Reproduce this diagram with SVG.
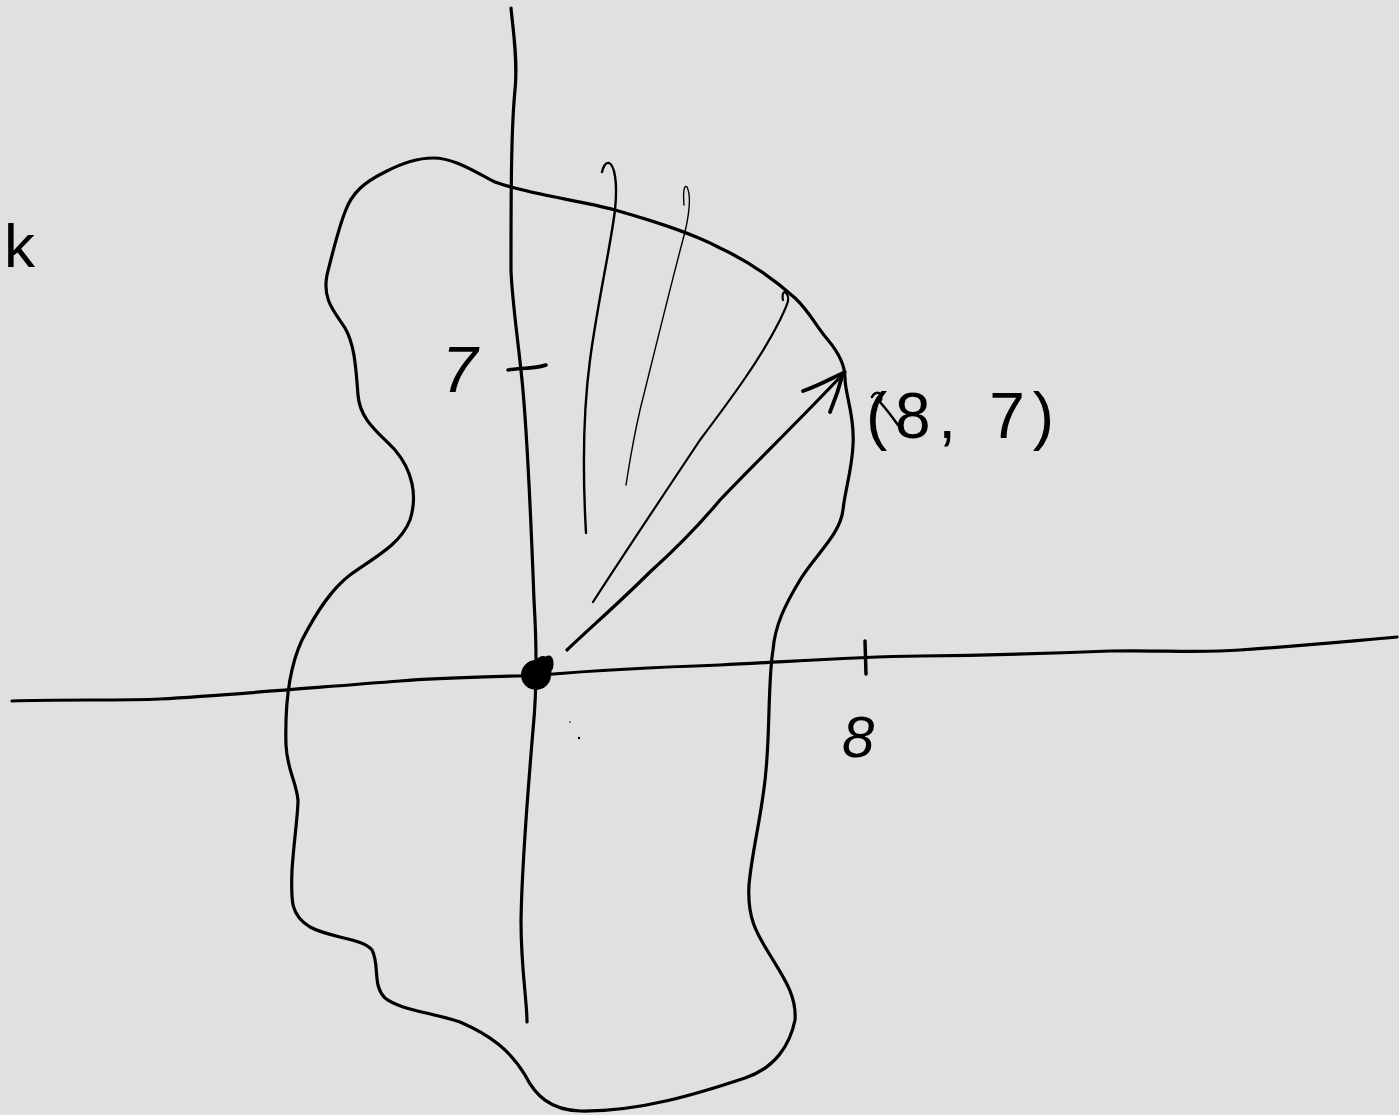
<svg xmlns="http://www.w3.org/2000/svg" width="1399" height="1115" viewBox="0 0 1399 1115">
<style>
.s{fill:none;stroke:#000;stroke-linecap:round;stroke-linejoin:round}
.t{font-family:"Liberation Sans",Arial,sans-serif;fill:#000}
</style>
<rect width="1399" height="1115" fill="#e0e0e0"/>
<g id="region">
<path class="s" stroke-width="3.2" d="M433,158 C455,158 475,172 495,182 C530,195 580,200 615,210 C650,220 690,232 720,248 C750,262 775,280 795,298 C810,312 815,325 828,340 C838,352 845,365 845,378 C845,395 855,415 853,445 C852,470 845,490 843,510 C840,535 815,555 800,580 C785,605 775,625 773,650 C768,680 770,730 766,770 C763,810 752,850 749,885 C747,920 758,935 770,955 C782,975 797,995 795,1020 C790,1045 775,1068 745,1078 C700,1093 640,1112 580,1111 C550,1110 535,1095 525,1075 C510,1050 490,1035 460,1022 C430,1012 400,1010 385,998 C372,985 380,965 372,950 C362,938 330,938 310,927 C290,915 291,900 292,870 C294,840 298,815 298,800 C296,780 287,770 286,745 C285,710 288,670 302,640 C315,615 330,590 350,575 C375,557 400,545 410,520 C418,495 412,470 395,450 C378,432 360,420 358,395 C356,370 355,345 345,328 C335,312 322,300 327,275 C332,255 338,230 345,212 C352,192 365,182 385,172 C402,163 418,158 433,158 Z"/>
</g>
<g id="axes">
<path class="s" stroke-width="3.2" d="M511,8 C513,30 518,60 515,90 C511,130 511,200 511,270 C512,300 518,340 522,380 C528,440 531,520 534,600 C537,650 537,690 533,730 C528,790 522,860 521,920 C521,970 527,1000 527,1022"/>
<path class="s" stroke-width="3.2" d="M12,701 C60,699 120,701 160,699 C230,695 320,687 400,681 C450,677 500,677 540,675 C600,670 660,667 720,665 C800,661 850,657 920,656 C1000,655 1060,653 1110,651 C1160,650 1200,653 1240,650 C1300,646 1350,641 1397,637"/>
<path class="s" stroke-width="3.5" d="M865,641 L866,674"/>
<path class="s" stroke-width="3.5" d="M508,370 C520,368 535,369 546,365"/>
</g>
<g id="origin">
<circle cx="536" cy="675" r="15" fill="#000"/>
<ellipse cx="543" cy="668" rx="9" ry="12" fill="#000"/>
<path class="s" stroke-width="4" d="M545,660 C549,655 553,658 551,668"/>
<circle cx="570" cy="722" r="0.8" fill="#000"/>
<circle cx="579" cy="738" r="1.2" fill="#000"/>
</g>
<g id="sweep-lines">
<path class="s" stroke-width="2.4" d="M586,533 C583,480 582,420 590,360 C598,300 610,250 615,210 C618,180 614,165 609,163 C605,162 603,168 602,172"/>
<path class="s" stroke-width="1.4" d="M626,485 C630,460 632,445 640,410 C655,350 672,280 685,232 C690,210 691,195 687,187 C684,184 683,192 684,205"/>
<path class="s" stroke-width="2.2" d="M593,602 C620,560 660,500 700,440 C730,400 760,360 780,320 C787,305 791,298 786,293 C783,290 782,296 783,300"/>
</g>
<g id="connectors">
<path class="s" stroke-width="3.2" d="M567,650 C590,628 620,602 650,572 C680,545 705,518 720,500 C750,468 790,430 845,372"/>
<path class="s" stroke-width="3.8" d="M803,391 C820,385 832,378 843,373 C840,385 835,400 830,412"/>
</g>
<g id="labels">
<text class="t" x="4" y="267" font-size="62">k</text>
<text class="t" x="442" y="392" font-size="64" font-style="italic">7</text>
<text class="t" x="842" y="757" font-size="58" font-style="italic">8</text>
<path class="s" stroke-width="2.5" d="M872,397 C875,390 885,392 880,402 C887,410 893,418 898,425"/>
<text class="t" x="866" y="438" font-size="64" textLength="188" lengthAdjust="spacing">(8, 7)</text>
</g>
</svg>
